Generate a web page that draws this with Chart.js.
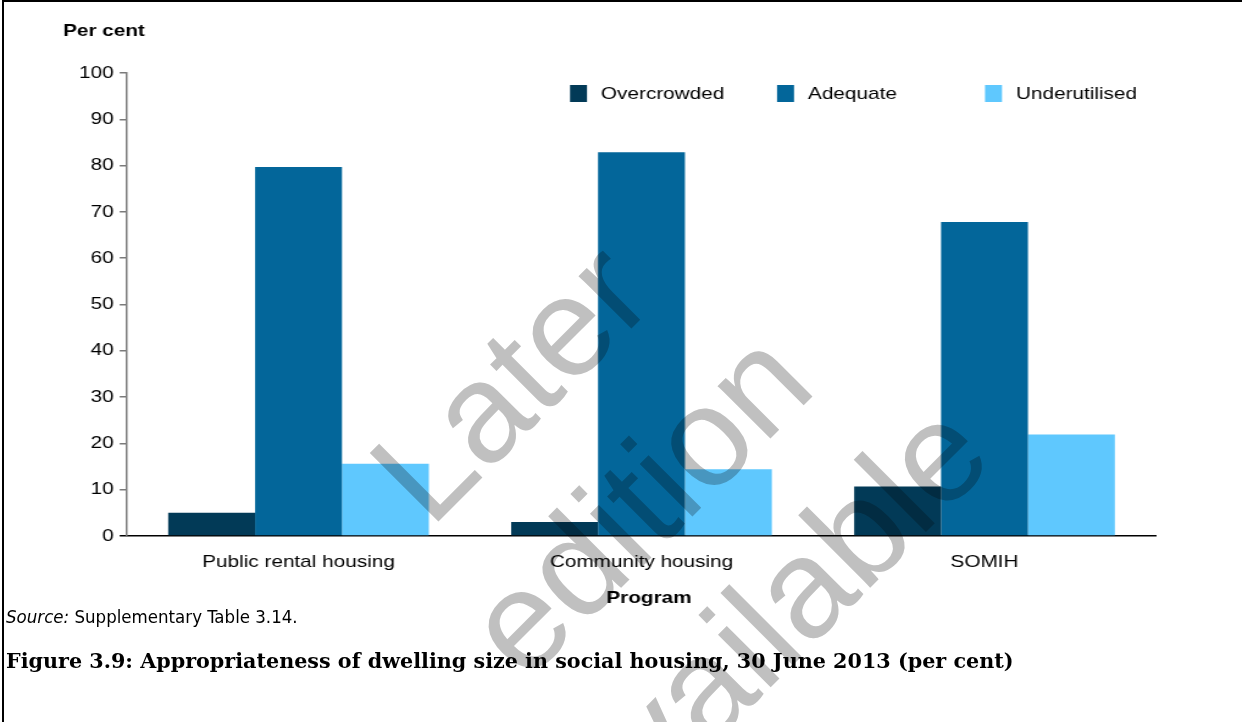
<!DOCTYPE html>
<html>
<head>
<meta charset="utf-8">
<script src="https://cdn.jsdelivr.net/npm/chart.js@4.4.0/dist/chart.umd.min.js"></script>
<style>
    html, body { margin: 0; padding: 0; background: #fff; }
    body { width: 1242px; height: 722px; position: relative; overflow: hidden; font-family: "Liberation Sans", Arial, sans-serif; }
    #frame { position: absolute; left: 2px; top: 0; width: 1400px; height: 900px; border-top: 2px solid #000; border-left: 2px solid #000; }
    #wrap { position: absolute; left: 0; top: 0; transform-origin: 0 0; }
    #source { position: absolute; left: 6px; top: 606px; font-size: 18.5px; color: #000; font-family: "Liberation Sans Narrow", "Arial Narrow", "DejaVu Sans Condensed", sans-serif; }
    #caption { position: absolute; left: 6px; top: 649px; font: bold 20.7px "Palatino Linotype", "Book Antiqua", "DejaVu Serif", serif; color: #000; white-space: nowrap; }
    #watermark { position: absolute; left: 0; top: 0; mix-blend-mode: multiply; pointer-events: none; }
</style>
</head>
<body>
<div id="frame"></div>
<div id="wrap"><canvas id="chart"></canvas></div>
<div id="source"><i>Source:</i> Supplementary Table 3.14.</div>
<div id="caption">Figure 3.9: Appropriateness of dwelling size in social housing, 30 June 2013 (per cent)</div>
<svg id="watermark" width="1242" height="722">
    <g font-family="Liberation Sans, Arial, sans-serif" font-size="141" fill="#c0c0c0" text-anchor="middle">
        <text x="544" y="416" transform="rotate(-45 544 416)">Later</text>
        <text x="672" y="537" transform="rotate(-45 672 537)">edition</text>
        <text x="800" y="658" transform="rotate(-45 800 658)">available</text>
    </g>
</svg>

<script>
// the chart text is set wider than normal, so the canvas is drawn narrow and stretched
const SX = 1.22;

const programs = ['Public rental housing', 'Community housing', 'SOMIH'];
const overcrowded = [5.0, 3.0, 10.7];
const adequate = [79.7, 82.9, 67.8];
const underutilised = [15.6, 14.4, 21.9];
const seriesNames = ['Overcrowded', 'Adequate', 'Underutilised'];
const seriesColors = ['#023a57', '#03669a', '#5fc8fe'];

const W = Math.round(1242 / SX);
const H = 722;
const yAxisWidth = 40;
const xAxisHeight = 40;

const canvas = document.getElementById('chart');
canvas.width = W;
canvas.height = H;
canvas.style.width = W + 'px';
canvas.style.height = H + 'px';
document.getElementById('wrap').style.transform = 'scaleX(' + SX + ')';

// axis titles and the legend row, placed in page pixels
const extras = {
    id: 'extras',
    afterDraw(chart) {
        const ctx = chart.ctx;
        ctx.save();
        ctx.fillStyle = '#000';
        ctx.textBaseline = 'middle';

        ctx.font = 'bold 17px "Liberation Sans", Arial, sans-serif';
        ctx.textAlign = 'left';
        ctx.fillText('Per cent', 63 / SX, 31);
        ctx.textAlign = 'center';
        ctx.fillText('Program', 649 / SX, 598);

        ctx.font = '17px "Liberation Sans", Arial, sans-serif';
        ctx.textAlign = 'left';
        const boxX = [570, 777, 985];
        chart.data.datasets.forEach((ds, i) => {
            ctx.fillStyle = ds.backgroundColor;
            ctx.fillRect(boxX[i] / SX, 85, 17 / SX, 17);
            ctx.fillStyle = '#000';
            ctx.fillText(ds.label, (boxX[i] + 31) / SX, 94);
        });
        ctx.restore();
    }
};

new Chart(canvas.getContext('2d'), {
    type: 'bar',
    data: {
        labels: programs,
        datasets: [
            { label: seriesNames[0], data: overcrowded, backgroundColor: seriesColors[0] },
            { label: seriesNames[1], data: adequate, backgroundColor: seriesColors[1] },
            { label: seriesNames[2], data: underutilised, backgroundColor: seriesColors[2] }
        ]
    },
    options: {
        responsive: false,
        animation: false,
        devicePixelRatio: 1,
        layout: {
            padding: {
                left: 127 / SX - yAxisWidth,
                right: W - 1156 / SX,
                top: 73,
                bottom: H - 536 - xAxisHeight
            }
        },
        datasets: { bar: { barPercentage: 1, categoryPercentage: 0.76 } },
        plugins: { legend: { display: false }, tooltip: { enabled: false } },
        scales: {
            x: {
                grid: { drawOnChartArea: false, drawTicks: false },
                border: { color: '#000', width: 1.5 },
                ticks: { color: '#000', padding: 16, font: { size: 17, family: '"Liberation Sans", Arial, sans-serif' } },
                afterFit: scale => { scale.height = xAxisHeight; }
            },
            y: {
                min: 0,
                max: 100,
                grid: {
                    drawOnChartArea: false,
                    tickLength: 6,
                    lineWidth: 1.5,
                    // the zero tick runs on as part of the black baseline
                    color: c => (c.tick && c.tick.value === 0 ? '#000' : '#7a7a7a')
                },
                border: { color: '#7a7a7a', width: 1.5 },
                ticks: { stepSize: 10, color: '#000', padding: 5, font: { size: 17, family: '"Liberation Sans", Arial, sans-serif' } },
                afterFit: scale => { scale.width = yAxisWidth; }
            }
        }
    },
    plugins: [extras]
});
</script>
</body>
</html>
